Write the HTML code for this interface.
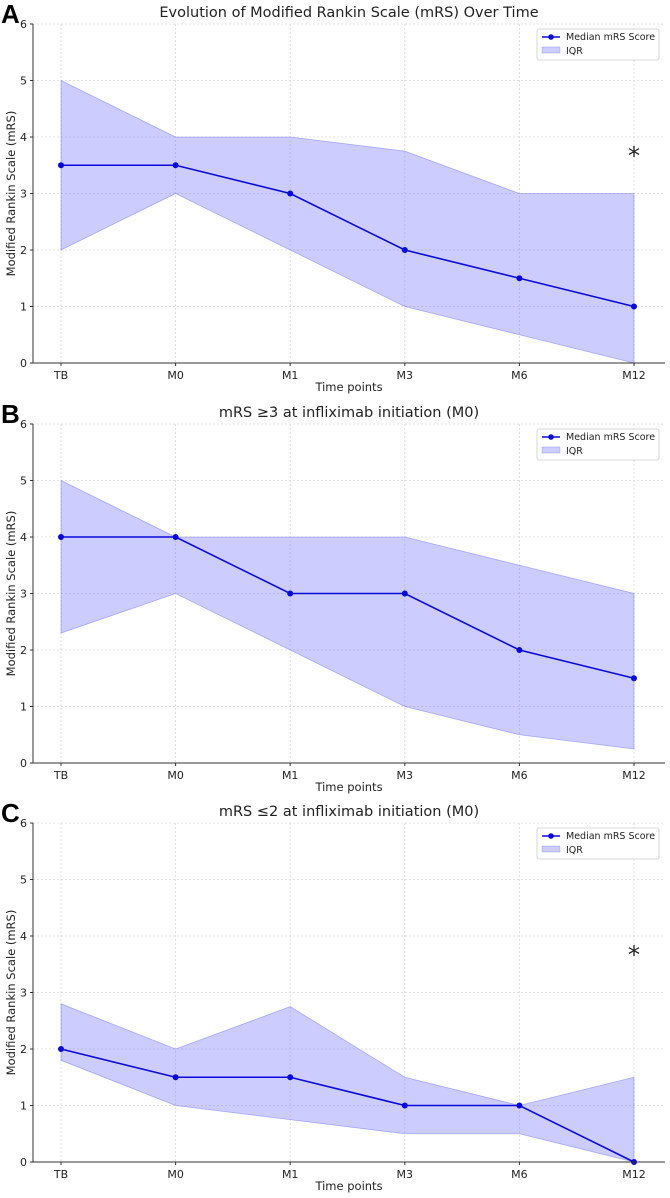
<!DOCTYPE html>
<html><head><meta charset="utf-8"><style>
body{margin:0;background:#fff;}
svg{display:block;font-family:"DejaVu Sans","Liberation Sans",sans-serif;}
</style></head><body>
<svg id="fig" width="670" height="1198" xmlns="http://www.w3.org/2000/svg"></svg>
<script>
const categories = ["TB","M0","M1","M3","M6","M12"];
const yTicks = [0,1,2,3,4,5,6];
const titles = ["Evolution of Modified Rankin Scale (mRS) Over Time","mRS \u22653 at infliximab initiation (M0)","mRS \u22642 at infliximab initiation (M0)"];
const letters = ["A","B","C"];
const medianA = [3.5,3.5,3,2,1.5,1];
const lowerA = [2,3,2,1,0.5,0];
const upperA = [5,4,4,3.75,3,3];
const medianB = [4,4,3,3,2,1.5];
const lowerB = [2.3,3,2,1,0.5,0.25];
const upperB = [5,4,4,4,3.5,3];
const medianC = [2,1.5,1.5,1,1,0];
const lowerC = [1.8,1,0.75,0.5,0.5,0];
const upperC = [2.8,2,2.75,1.5,1,1.5];
const asterisks = [3.7, null, 3.7];

const NS="http://www.w3.org/2000/svg";
const svg=document.getElementById('fig');
function mk(tag,attrs,parent,text){const e=document.createElementNS(NS,tag);for(const k in attrs)e.setAttribute(k,attrs[k]);if(text!==undefined)e.textContent=text;(parent||svg).appendChild(e);return e;}
const panels=[[medianA,lowerA,upperA],[medianB,lowerB,upperB],[medianC,lowerC,upperC]];
const tops=[24,424,823];
const L=33,R=665,H=339;
const x0=61,x1=634;
panels.forEach((p,i)=>{
  const top=tops[i],bot=top+H;
  const g=mk('g',{});
  
  
  const xs=j=>x0+(x1-x0)*j/(categories.length-1);
  const ys=v=>bot-v*H/6;
  yTicks.forEach(t=>{const l=mk('line',{x1:L,x2:R,y1:ys(t),y2:ys(t),stroke:'#d8d8d8','stroke-dasharray':'2,2','stroke-width':0.8},g);});
  categories.forEach((c,j)=>{const l=mk('line',{x1:xs(j),x2:xs(j),y1:top,y2:bot,stroke:'#d8d8d8','stroke-dasharray':'2,2','stroke-width':0.8},g);});
  let pts=p[2].map((v,j)=>xs(j)+','+ys(v)).concat(p[1].map((v,j)=>xs(j)+','+ys(v)).reverse());
  const band=mk('polygon',{points:pts.join(' '),fill:'rgba(120,120,255,0.38)',stroke:'rgba(110,110,240,0.5)','stroke-width':0.8},g);
  
  const line=mk('polyline',{points:p[0].map((v,j)=>xs(j)+','+ys(v)).join(' '),fill:'none',stroke:'#0a0ad8','stroke-width':1.6},g);
  
  p[0].forEach((v,j)=>{const c=mk('circle',{cx:xs(j),cy:ys(v),r:3,fill:'#0a0ad8'},g);});
  const ya=mk('line',{x1:L,x2:L,y1:top,y2:bot,stroke:'#333','stroke-width':1},g);
  const xa=mk('line',{x1:L,x2:R,y1:bot,y2:bot,stroke:'#333','stroke-width':1},g);
  yTicks.forEach(t=>{mk('line',{x1:L-3,x2:L,y1:ys(t),y2:ys(t),stroke:'#333'},g);const tx=mk('text',{x:L-6,y:ys(t)+4,'text-anchor':'end','font-size':11,fill:'#222'},g,t);});
  categories.forEach((c,j)=>{mk('line',{x1:xs(j),x2:xs(j),y1:bot,y2:bot+3,stroke:'#333'},g);const tx=mk('text',{x:xs(j),y:bot+16,'text-anchor':'middle','font-size':11,fill:'#222'},g,c);});
  const xt=mk('text',{x:(L+R)/2,y:bot+28,'text-anchor':'middle','font-size':11.5,fill:'#222'},g,'Time points');
  const yt=mk('text',{x:0,y:0,'text-anchor':'middle','font-size':11.5,fill:'#222',transform:`translate(15,${(top+bot)/2}) rotate(-90)`},g,'Modified Rankin Scale (mRS)');
  const tt=mk('text',{x:(L+R)/2,y:top-7,'text-anchor':'middle','font-size':14.5,fill:'#222'},g,titles[i]);
  const lt=mk('text',{x:1,y:top-1,'font-size':26,'font-weight':'bold','font-family':'Liberation Sans,sans-serif',fill:'#000'},g,letters[i]);
  const lg=mk('g',{},g);
  mk('rect',{x:537,y:top+5,width:122,height:31,rx:2,fill:'#fff',stroke:'#ccc','stroke-width':0.8},lg);
  mk('line',{x1:542,x2:560,y1:top+13,y2:top+13,stroke:'#0a0ad8','stroke-width':1.6},lg);
  mk('circle',{cx:551,cy:top+13,r:2.8,fill:'#0a0ad8'},lg);
  mk('text',{x:566,y:top+16,'font-size':9.5,fill:'#222'},lg,'Median mRS Score');
  mk('rect',{x:542,y:top+23,width:18,height:6,fill:'rgba(120,120,255,0.38)',stroke:'rgba(110,110,240,0.5)','stroke-width':0.6},lg);
  mk('text',{x:566,y:top+30,'font-size':9.5,fill:'#222'},lg,'IQR');
  if(asterisks[i]!==null){const a=mk('text',{x:xs(5),y:ys(asterisks[i])+10,'text-anchor':'middle','font-size':24,fill:'#222'},g,'*');}
});
</script>
</body></html>
